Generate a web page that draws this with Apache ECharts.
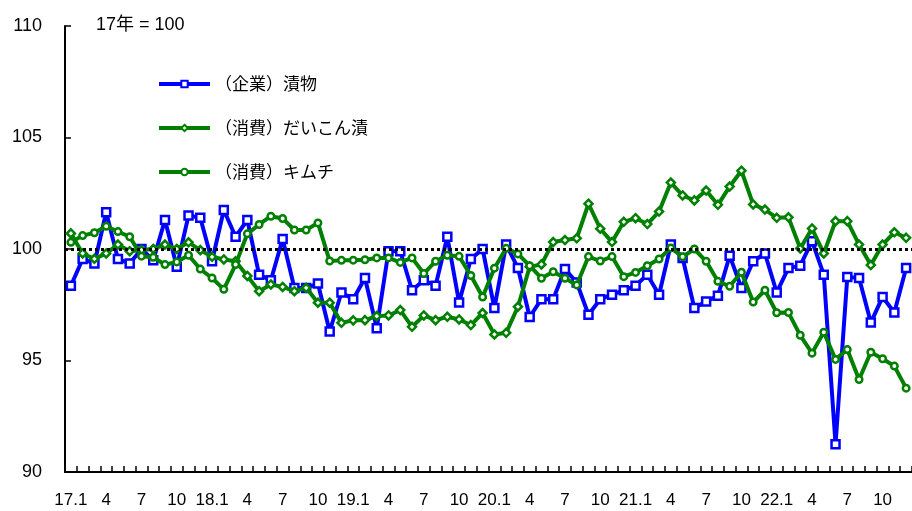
<!DOCTYPE html>
<html>
<head>
<meta charset="utf-8">
<script src="https://cdn.jsdelivr.net/npm/echarts@6/dist/echarts.min.js"></script>
<style>
  html, body { margin: 0; padding: 0; background: #fff; }
  #chart { width: 912px; height: 511px; }
</style>
</head>
<body>
<div id="chart"></div>
<script>
// months 17.1 .. 22.12
const months = [];
for (let y = 17; y <= 22; y++) for (let m = 1; m <= 12; m++) months.push(y + '.' + m);

const names = ['（企業）漬物', '（消費）だいこん漬', '（消費）キムチ'];

const kigyo = [
  98.35, 99.55, 99.35, 101.65, 99.55, 99.35, 100.0, 99.5, 101.3, 99.2, 101.5, 101.4,
  99.45, 101.75, 100.55, 101.3, 98.85, 98.6, 100.45, 98.25, 98.25, 98.45, 96.3, 98.05,
  97.75, 98.7, 96.45, 99.9, 99.9, 98.15, 98.6, 98.35, 100.55, 97.6, 99.55, 100.0,
  97.35, 100.2, 99.15, 96.95, 97.75, 97.75, 99.1, 98.5, 97.05, 97.75, 97.95, 98.15,
  98.35, 98.85, 97.95, 100.2, 99.6, 97.35, 97.65, 97.9, 99.7, 98.25, 99.45, 99.8,
  98.05, 99.15, 99.25, 100.35, 98.85, 91.25, 98.75, 98.7, 96.7, 97.85, 97.15, 99.15
];
const daikon = [
  100.7, 99.8, 99.56, 99.8, 100.2, 99.9, 99.95, 100.0, 100.2, 100.0, 100.3, 99.95,
  99.65, 99.53, 99.45, 98.79, 98.11, 98.41, 98.3, 98.11, 98.26, 97.59, 97.59, 96.69,
  96.8, 96.81, 96.99, 97.02, 97.26, 96.51, 97.02, 96.81, 96.96, 96.84, 96.59, 97.13,
  96.17, 96.24, 97.41, 99.2, 99.31, 100.31, 100.4, 100.48, 102.03, 100.91, 100.31, 101.22,
  101.38, 101.12, 101.68, 102.98, 102.4, 102.18, 102.62, 101.98, 102.8, 103.51, 102.0, 101.77,
  101.4, 101.42, 100.02, 100.92, 99.8, 101.25, 101.25, 100.2, 99.28, 100.2, 100.75, 100.5
];
const kimchi = [
  100.3, 100.6, 100.73, 101.02, 100.78, 100.55, 99.68, 99.63, 99.3, 99.42, 99.72, 99.1,
  98.7, 98.19, 99.3, 100.68, 101.1, 101.47, 101.37, 100.85, 100.85, 101.17, 99.46, 99.49,
  99.5, 99.52, 99.6, 99.6, 99.4, 99.6, 98.9, 99.45, 99.72, 99.67, 98.81, 97.85,
  99.14, 100.03, 99.78, 99.25, 98.69, 98.98, 98.69, 98.39, 99.66, 99.46, 99.66, 98.76,
  98.95, 99.25, 99.55, 100.05, 99.65, 100.0, 99.45, 98.55, 98.33, 98.96, 97.62, 98.15,
  97.14, 97.15, 96.13, 95.33, 96.27, 95.05, 95.49, 94.15, 95.37, 95.08, 94.75, 93.76
];
const baseLine = 100;

const font = "'Liberation Sans', 'Noto Sans CJK JP', sans-serif";
const BLUE = '#0000ff';
const GREEN = '#008000';

const chart = echarts.init(document.getElementById('chart'), null, { renderer: 'canvas' });

function lineSeries(name, data, color, symbol, size, z) {
  return {
    name, type: 'line', data, z,
    symbol, symbolSize: size,
    showAllSymbol: true,
    lineStyle: { color, width: 4 },
    itemStyle: { color: '#fff', borderColor: color, borderWidth: 2.5 },
    emphasis: { disabled: true },
    animation: false,
  };
}

chart.setOption({
  animation: false,
  title: {
    text: '17年 = 100', left: 91, top: 11,
    textStyle: { fontFamily: font, fontSize: 18, fontWeight: 'normal', color: '#000' },
  },
  legend: {
    orient: 'vertical', left: 152, top: 70, padding: 5,
    itemWidth: 51, itemHeight: 8, itemGap: 26,
    data: names,
    lineStyle: { width: 4 },
    itemStyle: { borderWidth: 2 },
    textStyle: { fontFamily: "'Noto Sans CJK JP', sans-serif", fontSize: 17, color: '#000', lineHeight: 18 },
  },
  grid: { left: 65, top: 26, width: 852, height: 446 },
  xAxis: {
    type: 'category', data: months, boundaryGap: true,
    axisLine: { lineStyle: { color: '#000', width: 2 } },
    axisTick: { show: true, inside: true, interval: 0, length: 6, lineStyle: { color: '#000', width: 1.5 } },
    axisLabel: {
      interval: 2, margin: 20, color: '#000', fontFamily: font, fontSize: 17,
      formatter: (v) => (v.endsWith('.1') ? v : v.split('.')[1]),
    },
    splitLine: { show: false },
  },
  yAxis: {
    type: 'value', min: 90, max: 110, interval: 5,
    axisLine: { show: true, lineStyle: { color: '#000', width: 2 } },
    axisTick: { show: true, inside: true, length: 6, lineStyle: { color: '#000', width: 1.5 } },
    axisLabel: { margin: 23, color: '#000', fontFamily: font, fontSize: 18 },
    splitLine: { show: false },
  },
  series: [
    {
      name: 'base', type: 'line', data: [], z: 1, silent: true,
      markLine: {
        symbol: 'none', silent: true, animation: false,
        label: { show: false },
        lineStyle: { color: '#000', type: [3, 3], width: 3 },
        data: [{ yAxis: baseLine }],
      },
    },
    lineSeries(names[0], kigyo, BLUE, 'rect', 8, 2),
    lineSeries(names[1], daikon, GREEN, 'diamond', 8, 3),
    lineSeries(names[2], kimchi, GREEN, 'circle', 6.5, 4),
  ],
});
</script>
</body>
</html>
